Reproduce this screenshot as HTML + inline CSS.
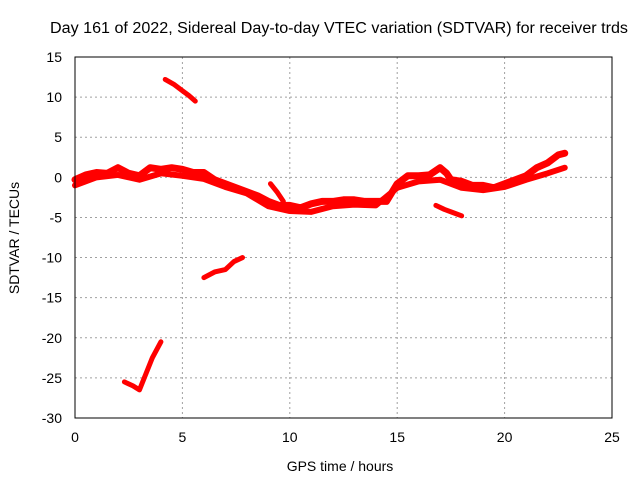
<!DOCTYPE html>
<html><head><meta charset="utf-8"><style>
body{margin:0;background:#fff;font-family:"Liberation Sans",sans-serif}
svg text{font-family:"Liberation Sans",sans-serif;font-size:14px;fill:#000}
</style></head><body>
<svg id="c" width="640" height="480">
<rect x="0" y="0" width="640" height="480" fill="#fff"/>
<text x="339" y="33" text-anchor="middle" textLength="578" lengthAdjust="spacingAndGlyphs" style="font-size:15.5px">Day 161 of 2022, Sidereal Day-to-day VTEC variation (SDTVAR) for receiver trds</text>
<text x="340" y="471" text-anchor="middle">GPS time / hours</text>
<text transform="translate(19,238) rotate(-90)" text-anchor="middle">SDTVAR / TECUs</text>
<g id="grid"></g><g id="ticks"></g><g id="series"></g>
<rect x="75" y="57" width="537" height="361" fill="none" stroke="#000"/>
</svg>
<script>
const xTicks=[0,5,10,15,20,25];
const yTicks=[15,10,5,0,-5,-10,-15,-20,-25,-30];
const mainHours=[0,0.5,1,1.5,2,2.5,3,3.5,4,4.5,5,5.5,6,6.5,7,7.5,8,8.5,9,9.5,10,10.5,11,11.5,12,12.5,13,13.5,14,14.5,15,15.5,16,16.5,17,17.3,17.5,18,18.5,19,19.5,20,20.5,21,21.5,22,22.5,22.8];
const mainValues=[-0.3,0.3,0.6,0.5,1.2,0.5,0.2,1.2,1,1.2,1,0.6,0.6,-0.3,-0.8,-1.3,-1.8,-2.3,-3,-3.5,-3.5,-3.8,-3.3,-3,-3,-2.8,-2.8,-3,-3,-3,-0.8,0.2,0.2,0.3,1.2,0.5,-0.3,-0.5,-1,-1,-1.3,-0.8,-0.3,0.2,1.2,1.8,2.8,3];
const lowerHours=[0,0.5,1,2,3,4,5,6,7,8,9,10,11,12,13,14,15,16,17,18,19,20,21,22,22.8];
const lowerValues=[-1,-0.5,0,0.3,-0.3,0.5,0.2,-0.2,-1.2,-2,-3.6,-4.2,-4.3,-3.6,-3.4,-3.5,-1.3,-0.5,-0.3,-1.3,-1.6,-1.2,-0.3,0.5,1.2];
const segAHours=[4.2,4.6,5,5.3,5.6];const segAValues=[12.2,11.6,10.8,10.2,9.5];
const segBHours=[6,6.5,7,7.4,7.8];const segBValues=[-12.5,-11.8,-11.5,-10.5,-10];
const segCHours=[2.3,2.7,3,3.3,3.6,4];const segCValues=[-25.5,-26,-26.5,-24.5,-22.5,-20.5];
const segDHours=[16.8,17.2,17.6,18];const segDValues=[-3.5,-4,-4.4,-4.8];
const segEHours=[9.1,9.4,9.7];const segEValues=[-0.8,-1.8,-3];
const X=h=>75+h*537/25, Y=v=>57+(15-v)*361/45;
const ns="http://www.w3.org/2000/svg";
const g=document.getElementById('grid'),t=document.getElementById('ticks'),s=document.getElementById('series');
function mk(tag,at,p){const e=document.createElementNS(ns,tag);for(const k in at)e.setAttribute(k,at[k]);p.appendChild(e);return e;}
xTicks.forEach(v=>{
 const l=mk('line',{x1:X(v),x2:X(v),y1:57,y2:418,stroke:'#a0a0a0','stroke-dasharray':'2,3'},g);
 
 
 const tx=mk('text',{x:X(v),y:442,'text-anchor':'middle'},t);tx.textContent=v;
 
 
});
yTicks.forEach(v=>{
 const l=mk('line',{x1:75,x2:612,y1:Y(v),y2:Y(v),stroke:'#a0a0a0','stroke-dasharray':'2,3'},g);
 
 
 const tx=mk('text',{x:62,y:Y(v)+5,'text-anchor':'end'},t);tx.textContent=v;
 
 
});
function series(hs,vs,name,w){
 const p=mk('polyline',{points:hs.map((h,i)=>X(h)+','+Y(vs[i])).join(' '),fill:'none',stroke:'#f00','stroke-width':w,'stroke-linejoin':'round','stroke-linecap':'round'},s);
 
 
}
series(mainHours,mainValues,'main-trace',7);
series(lowerHours,lowerValues,'lower-trace',6);
series(segAHours,segAValues,'segment-a',5);
series(segBHours,segBValues,'segment-b',5);
series(segCHours,segCValues,'segment-c',5);
series(segDHours,segDValues,'segment-d',5);
series(segEHours,segEValues,'segment-e',5);
</script>
</body></html>
